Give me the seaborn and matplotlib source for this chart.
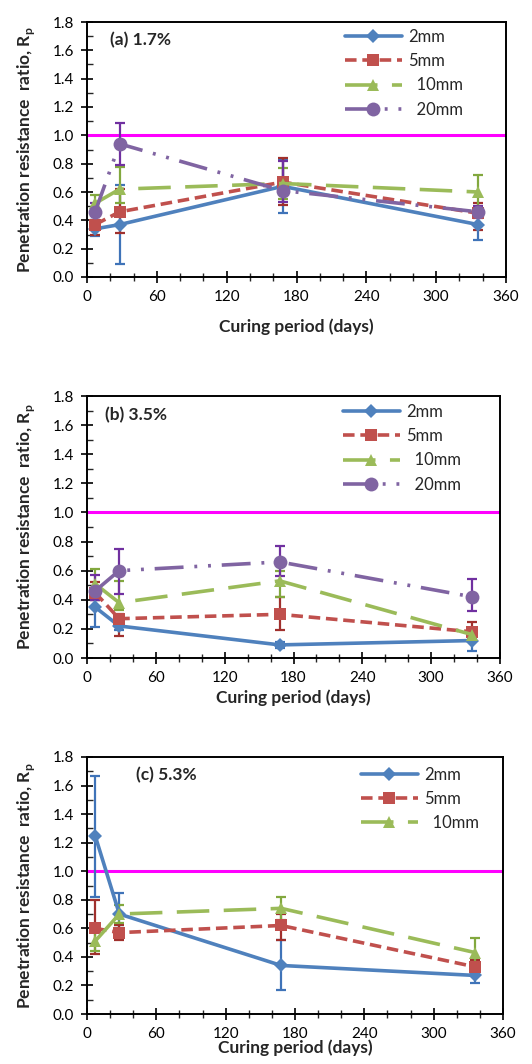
import numpy as np
import pandas as pd
import matplotlib
matplotlib.use("Agg")
import matplotlib.pyplot as plt
import seaborn as sns

sns.set_style("white")
plt.rcParams['font.family'] = ['Lato', 'DejaVu Sans']
plt.rcParams['mathtext.fontset'] = 'custom'
plt.rcParams['mathtext.rm'] = 'Lato'
plt.rcParams['mathtext.bf'] = 'Lato:bold'

# ---------------- data ----------------
days = [7, 28, 168, 336]

# panel (a) 1.7%
a_2mm = [0.34, 0.37, 0.64, 0.37]
a_5mm = [0.37, 0.46, 0.67, 0.45]
a_10mm = [0.52, 0.62, 0.66, 0.60]
a_20mm = [0.46, 0.94, 0.61, 0.46]
a_2mm_lo = [0.29, 0.09, 0.45, 0.26]
a_2mm_hi = [0.40, 0.65, 0.83, 0.47]
a_5mm_lo = [0.30, 0.31, 0.51, 0.33]
a_5mm_hi = [0.44, 0.62, 0.84, 0.52]
a_10mm_lo = [0.45, 0.52, 0.55, 0.48]
a_10mm_hi = [0.58, 0.78, 0.77, 0.72]
a_20mm_lo = [0.40, 0.79, 0.53, 0.42]
a_20mm_hi = [0.52, 1.09, 0.82, 0.50]

# panel (b) 3.5%
b_2mm = [0.35, 0.22, 0.09, 0.12]
b_5mm = [0.45, 0.27, 0.30, 0.18]
b_10mm = [0.51, 0.38, 0.53, 0.16]
b_20mm = [0.46, 0.60, 0.66, 0.42]
b_2mm_lo = [0.21, 0.19, 0.07, 0.05]
b_2mm_hi = [0.40, 0.25, 0.11, 0.18]
b_5mm_lo = [0.40, 0.15, 0.19, 0.12]
b_5mm_hi = [0.52, 0.30, 0.42, 0.25]
b_10mm_lo = [0.45, 0.33, 0.42, 0.13]
b_10mm_hi = [0.61, 0.53, 0.60, 0.20]
b_20mm_lo = [0.40, 0.44, 0.56, 0.32]
b_20mm_hi = [0.57, 0.75, 0.77, 0.54]

# panel (c) 5.3%
c_2mm = [1.25, 0.70, 0.34, 0.27]
c_5mm = [0.60, 0.57, 0.62, 0.33]
c_10mm = [0.51, 0.70, 0.74, 0.43]
c_2mm_lo = [0.82, 0.60, 0.17, 0.22]
c_2mm_hi = [1.67, 0.85, 0.52, 0.30]
c_5mm_lo = [0.42, 0.52, 0.52, 0.28]
c_5mm_hi = [0.80, 0.62, 0.70, 0.38]
c_10mm_lo = [0.44, 0.64, 0.66, 0.33]
c_10mm_hi = [0.58, 0.76, 0.82, 0.53]

panel_titles = ["(a) 1.7%", "(b) 3.5%", "(c) 5.3%"]
series_names = ["2mm", "5mm", "10mm", "20mm"]
x_ticks = [0, 60, 120, 180, 240, 300, 360]
y_ticks = [0.0, 0.2, 0.4, 0.6, 0.8, 1.0, 1.2, 1.4, 1.6, 1.8]
reference_line = 1.0

# ---------------- styles ----------------
colors = {"2mm": "#4F81BD", "5mm": "#C0504D", "10mm": "#9BBB59", "20mm": "#8064A2"}
err_colors = {"2mm": "#3F73B8", "5mm": "#A0302D", "10mm": "#82A83E", "20mm": "#7030A0"}
markers = {"2mm": "D", "5mm": "s", "10mm": "^", "20mm": "o"}
msizes = {"2mm": 7, "5mm": 9, "10mm": 9, "20mm": 10}
dashes = {"2mm": "", "5mm": (3.2, 1.6), "10mm": (9, 4), "20mm": (8, 3, 0.8, 3, 0.8, 3)}
legend_labels = {"2mm": "2mm", "5mm": "5mm", "10mm": "  10mm", "20mm": "  20mm"}

panels = [
    dict(title=panel_titles[0],
         vals={"2mm": a_2mm, "5mm": a_5mm, "10mm": a_10mm, "20mm": a_20mm},
         lo={"2mm": a_2mm_lo, "5mm": a_5mm_lo, "10mm": a_10mm_lo, "20mm": a_20mm_lo},
         hi={"2mm": a_2mm_hi, "5mm": a_5mm_hi, "10mm": a_10mm_hi, "20mm": a_20mm_hi}),
    dict(title=panel_titles[1],
         vals={"2mm": b_2mm, "5mm": b_5mm, "10mm": b_10mm, "20mm": b_20mm},
         lo={"2mm": b_2mm_lo, "5mm": b_5mm_lo, "10mm": b_10mm_lo, "20mm": b_20mm_lo},
         hi={"2mm": b_2mm_hi, "5mm": b_5mm_hi, "10mm": b_10mm_hi, "20mm": b_20mm_hi}),
    dict(title=panel_titles[2],
         vals={"2mm": c_2mm, "5mm": c_5mm, "10mm": c_10mm},
         lo={"2mm": c_2mm_lo, "5mm": c_5mm_lo, "10mm": c_10mm_lo},
         hi={"2mm": c_2mm_hi, "5mm": c_5mm_hi, "10mm": c_10mm_hi}),
]

W, H = 532, 1064
fig = plt.figure(figsize=(W / 100, H / 100), dpi=100)

def px_axes(left, top, right, bottom):
    return fig.add_axes([left / W, 1 - bottom / H, (right - left) / W, (bottom - top) / H])

axes_px = [(87, 22, 506, 277), (87, 396, 500, 658), (87, 757, 503, 1014)]
title_px = [(110, 40), (105, 415), (136, 775)]
legend_px = [(470, 22), (468, 397), (486, 760)]
xlabel_pad = [10, 3, -1]

for p, (l, t, r, b), (tx, ty), (lx, ly), pad in zip(panels, axes_px, title_px, legend_px, xlabel_pad):
    ax = px_axes(l, t, r, b)
    names = list(p["vals"].keys())
    rows = []
    for n in names:
        for d, v in zip(days, p["vals"][n]):
            rows.append({"days": d, "Rp": v, "size": n})
    df = pd.DataFrame(rows)

    ax.axhline(reference_line, color="#FF00FF", lw=2.2, zorder=1)

    for n in names:
        lo = np.array(p["lo"][n]); hi = np.array(p["hi"][n]); v = np.array(p["vals"][n])
        ax.errorbar(days, v, yerr=[v - lo, hi - v], fmt="none", ecolor=err_colors[n],
                    elinewidth=1.6, capsize=3.5, capthick=1.6, zorder=2)

    sns.lineplot(data=df, x="days", y="Rp", hue="size", style="size",
                 hue_order=names, style_order=names,
                 palette={n: colors[n] for n in names},
                 markers={n: markers[n] for n in names},
                 dashes={n: dashes[n] for n in names},
                 linewidth=2.6, markeredgewidth=0, ax=ax, legend=False, zorder=3)
    for line, n in zip(ax.get_lines()[-len(names):], names):
        line.set_markersize(msizes[n])
        line.set_label(legend_labels[n])

    handles = ax.get_lines()[-len(names):]
    ax.legend(handles=handles, labels=[legend_labels[n] for n in names],
              frameon=False, loc="upper right",
              bbox_to_anchor=(lx / W, 1 - ly / H), bbox_transform=fig.transFigure,
              fontsize=12, handlelength=3.4, handletextpad=0.4, labelspacing=0.5,
              borderaxespad=0)

    ax.set_xlim(0, 360)
    ax.set_ylim(0, 1.8)
    ax.set_xticks(x_ticks)
    ax.set_yticks(y_ticks)
    ax.set_yticklabels([f"{v:.1f}" for v in y_ticks])
    ax.set_xticks(np.arange(0, 361, 20), minor=True)
    ax.set_yticks(np.arange(0, 1.81, 0.1), minor=True)
    ax.tick_params(axis="both", which="major", direction="inout", length=9, width=1.2,
                   labelsize=11, colors="black", pad=5)
    ax.tick_params(axis="x", which="minor", direction="inout", length=6, width=1.0)
    ax.tick_params(axis="y", which="minor", direction="in", length=4, width=1.0)
    ax.tick_params(axis="x", which="both", bottom=True, top=False)
    ax.tick_params(axis="y", which="both", left=True, right=False)
    for s in ax.spines.values():
        s.set_visible(True)
        s.set_color("black")
        s.set_linewidth(1.4)

    ax.set_xlabel("Curing period (days)", fontsize=12.5, fontweight="bold", labelpad=pad)
    ax.set_ylabel(r"Penetration resistance  ratio, R$_\mathbf{p}$", fontsize=12.5,
                  fontweight="bold", labelpad=11)
    ax.text(tx / W, 1 - ty / H, p["title"], transform=fig.transFigure,
            fontsize=12.5, fontweight="bold", va="center", ha="left")

fig.savefig("out.png", dpi=100)
